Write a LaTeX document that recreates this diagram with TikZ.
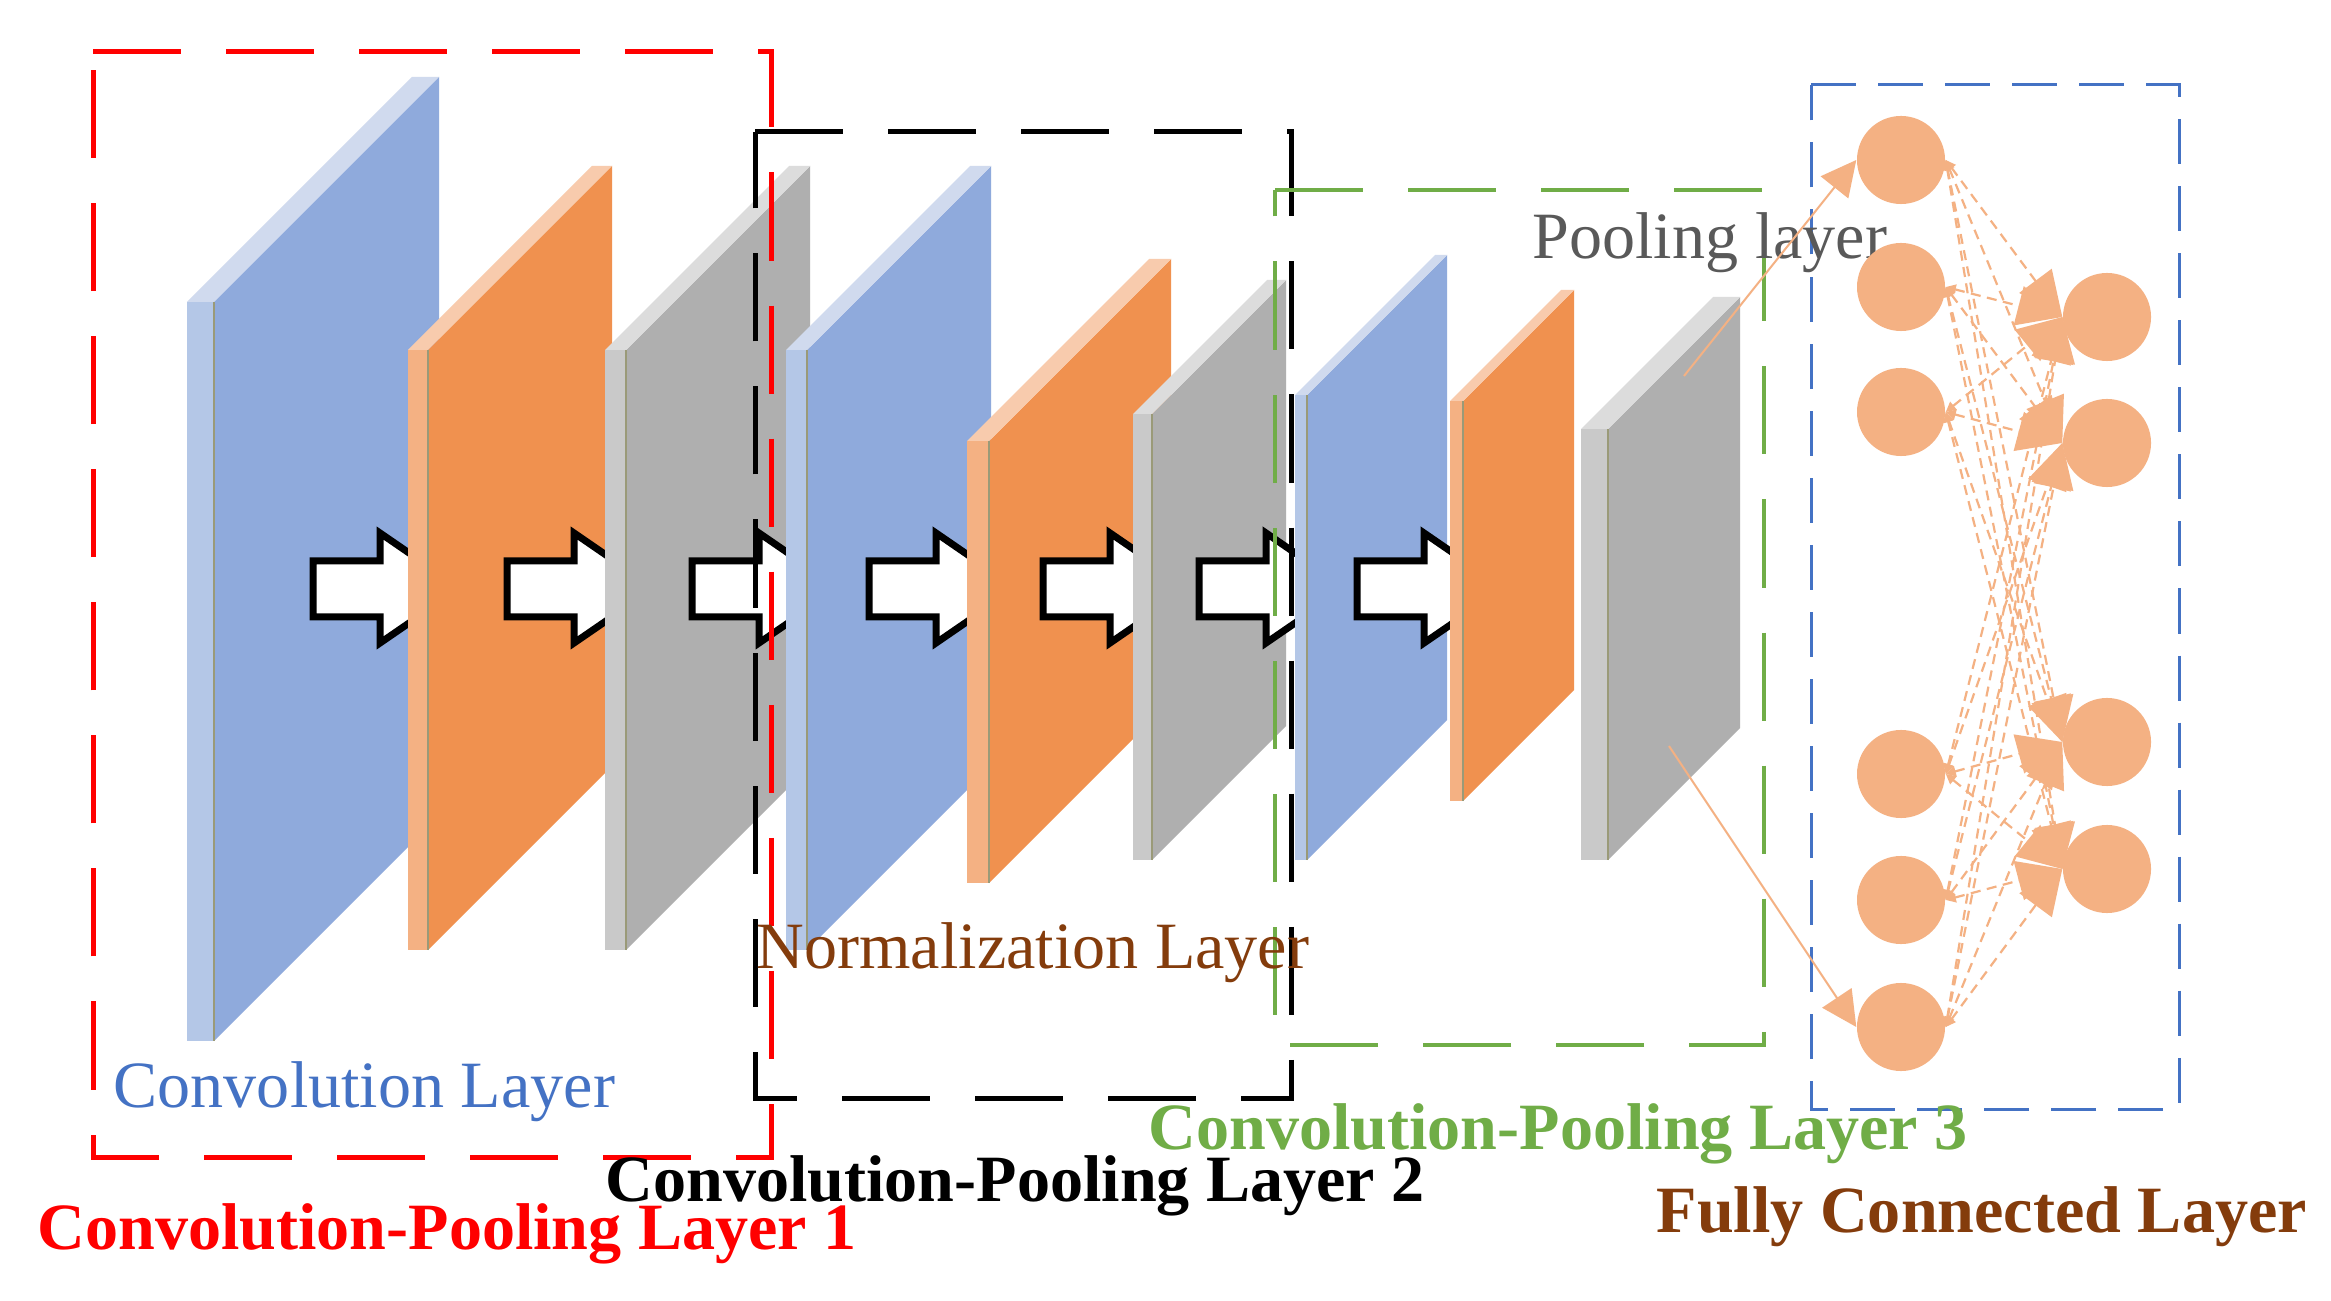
\documentclass[tikz,border=0pt]{standalone}
\usepackage{fontspec}
\setmainfont{Liberation Serif}
\usetikzlibrary{arrows.meta}
\definecolor{bFace}{HTML}{8FAADC}
\definecolor{bStrip}{HTML}{B4C7E7}
\definecolor{bTop}{HTML}{D0DAEE}
\definecolor{oFace}{HTML}{F0914F}
\definecolor{oStrip}{HTML}{F4B183}
\definecolor{oTop}{HTML}{F8CBAD}
\definecolor{gFace}{HTML}{AFAFAF}
\definecolor{gStrip}{HTML}{C9C9C9}
\definecolor{gTop}{HTML}{DCDCDC}
\definecolor{seamC}{HTML}{9A9A78}
\definecolor{boxRed}{HTML}{FF0000}
\definecolor{boxGreen}{HTML}{70AD47}
\definecolor{boxBlue}{HTML}{4472C4}
\definecolor{txtBrown}{HTML}{843C0C}
\definecolor{txtGray}{HTML}{595959}
\definecolor{fcC}{HTML}{F4B183}
\newcommand{\fmpanel}[6]{%
  \pgfmathsetmacro{\pdd}{#3-#2}%
  \pgfmathsetmacro{\ptop}{#4-\pdd}%
  \pgfmathsetmacro{\pbot}{#5-\pdd}%
  \pgfmathsetmacro{\pxl}{#3-(#2-#1)}%
  \fill[#6Face] (#2,#4) -- (#3,\ptop) -- (#3,\pbot) -- (#2,#5) -- cycle;
  \fill[#6Top] (#1,#4) -- (#2,#4) -- (#3,\ptop) -- (\pxl,\ptop) -- cycle;
  \fill[#6Strip] (#1,#4) rectangle (#2,#5);
  \draw[seam] (#2,#4) -- (#2,#5);
}
\newcommand{\blockarrow}[1]{%
  \draw[blockarr] (#1+3,561) -- (#1+70,561) -- (#1+70,533) -- (#1+150,588)
    -- (#1+70,643) -- (#1+70,617) -- (#1+3,617) -- cycle;
}
\tikzset{
  seam/.style={seamC, line width=0.012cm},
  blockarr/.style={draw=black, fill=white, line width=0.07cm, line join=miter},
  groupbox/.style={line width=0.05cm, dash pattern=on 0.88cm off 0.45cm},
  fcbox/.style={boxBlue, line width=0.03cm, dash pattern=on 0.45cm off 0.22cm},
  lbl/.style={inner sep=0pt, anchor=base west, font=\fontsize{18.8pt}{22pt}\selectfont},
  blbl/.style={lbl, font=\fontsize{18.8pt}{22pt}\selectfont\bfseries},
  fcnode/.style={circle, fill=fcC, draw=none, minimum size=0.88cm, inner sep=0pt},
  fcline/.style={fcC, line width=0.022cm, dash pattern=on 0.1cm off 0.065cm,
    {Triangle[length=0.1cm,width=0.1cm]}-{Triangle[length=0.45cm,width=0.4cm]}},
  poolarr/.style={fcC, line width=0.02cm, -{Triangle[length=0.35cm,width=0.35cm]}}
}
\begin{document}
\begin{tikzpicture}[x=0.01cm, y=-0.01cm]
\useasboundingbox (0,0) rectangle (2331,1301);
\fill[white] (0,0) rectangle (2331,1301);
% panels and block arrows
\fmpanel{187}{214}{439}{302}{1041}{b}
\blockarrow{310}
\fmpanel{408}{428}{612}{350}{950}{o}
\blockarrow{504}
\fmpanel{605}{626}{810}{350}{950}{g}
\blockarrow{689}
\fmpanel{786}{807}{991}{350}{950}{b}
\blockarrow{866}
\fmpanel{967}{989}{1171}{441}{883}{o}
\blockarrow{1040}
\fmpanel{1133}{1152}{1286}{414}{860}{g}
\blockarrow{1196}
\fmpanel{1295}{1307}{1447}{395}{860}{b}
\blockarrow{1354}
\fmpanel{1450}{1463}{1574}{401}{801}{o}
\fmpanel{1581}{1608}{1740}{429}{860}{g}
% group boxes
\draw[groupbox, boxRed] (93,52) -- (771,52) -- (771,1157) -- (93,1157) -- cycle;
\draw[groupbox, black] (755,132) -- (1291,132) -- (1291,1098) -- (755,1098) -- cycle;
\draw[groupbox, boxGreen, line width=0.045cm] (1275,190) -- (1764,190) -- (1764,1045) -- (1275,1045) -- cycle;
\draw[fcbox] (1811,85) -- (2179,85) -- (2179,1109) -- (1811,1109) -- cycle;
% labels
\node[lbl, text=boxBlue] (convl) at (113,1107) {Convolution Layer};
\node[lbl, text=txtBrown] (norml) at (756,968) {Normalization Layer};
\node[lbl, text=txtGray] (pooll) at (1532,259) {Pooling layer};
\node[blbl, text=boxRed] (cpl1) at (37,1249) {Convolution-Pooling Layer 1};
\node[blbl, text=black] (cpl2) at (605,1201) {Convolution-Pooling Layer 2};
\node[blbl, text=boxGreen] (cpl3) at (1148,1149) {Convolution-Pooling Layer 3};
\node[blbl, text=txtBrown] (fcl) at (1656,1232) {Fully Connected Layer};
% fully connected nodes
\node[fcnode] (l1) at (1901,160) {};
\node[fcnode] (l2) at (1901,287) {};
\node[fcnode] (l3) at (1901,412) {};
\node[fcnode] (l4) at (1901,774) {};
\node[fcnode] (l5) at (1901,900) {};
\node[fcnode] (l6) at (1901,1027) {};
\node[fcnode] (r1) at (2107,317) {};
\node[fcnode] (r2) at (2107,443) {};
\node[fcnode] (r3) at (2107,742) {};
\node[fcnode] (r4) at (2107,869) {};
\foreach \i in {1,...,6}{\foreach \j in {1,...,4}{\draw[fcline] (l\i.east) -- (r\j.west);}}
% pooling arrows
\coordinate (pa) at (1684,376);
\coordinate (pb) at (1669,746);
\draw[poolarr] (pa) -- (l1.west);
\draw[poolarr] (pb) -- (l6.west);
\end{tikzpicture}
\end{document}
